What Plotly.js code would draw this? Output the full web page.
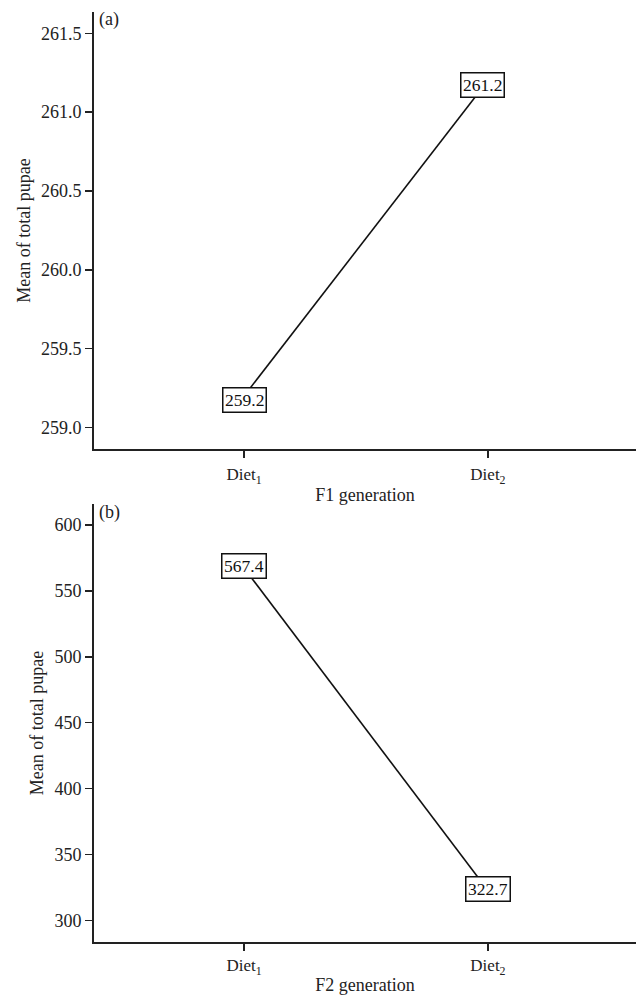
<!DOCTYPE html>
<html>
<head>
<meta charset="utf-8">
<script src="https://cdn.plot.ly/plotly-3.0.1.min.js"></script>
<style>html,body{margin:0;padding:0;background:#fff;}#chart{width:636px;height:995px;}</style>
</head>
<body>
<div id="chart"></div>
<script>
// Data
const categories = ["Diet<sub>1</sub>", "Diet<sub>2</sub>"];
const f1Means = [259.2, 261.2];
const f2Means = [567.4, 322.7];
const f1Labels = ["259.2", "261.2"];
const f2Labels = ["567.4", "322.7"];
const yTitle = "Mean of total pupae";
const xTitleA = "F1 generation";
const xTitleB = "F2 generation";

const FONT = "Liberation Serif";
const INK = "#222";

const traces = [
  {x: categories, y: f1Means, xaxis: "x", yaxis: "y", mode: "lines",
   line: {color: "#111", width: 1.6}, hoverinfo: "skip", showlegend: false},
  {x: categories, y: f2Means, xaxis: "x2", yaxis: "y2", mode: "lines",
   line: {color: "#111", width: 1.6}, hoverinfo: "skip", showlegend: false}
];

function xaxisCfg(anchor, title, standoff, lblStandoff) {
  return {
    anchor: anchor, domain: [0, 1], type: "category",
    range: [-0.615, 1.607],
    showline: true, linecolor: INK, linewidth: 2,
    ticks: "outside", ticklen: 7, tickwidth: 1.5, tickcolor: INK,
    showgrid: false, zeroline: false,
    ticklabelstandoff: lblStandoff,
    tickfont: {family: FONT, size: 17, color: INK},
    title: {text: title, font: {family: FONT, size: 18, color: INK}, standoff: standoff}
  };
}
function yaxisCfg(anchor, domain, range, dtick, fmt) {
  return {
    anchor: anchor, domain: domain, range: range,
    tick0: 0, dtick: dtick, tickformat: fmt,
    showline: true, linecolor: INK, linewidth: 2,
    ticks: "outside", ticklen: 7, tickwidth: 1.5, tickcolor: INK,
    showgrid: false, zeroline: false,
    tickfont: {family: FONT, size: 18, color: INK},
    title: {text: yTitle, font: {family: FONT, size: 18, color: INK}, standoff: 6}
  };
}

const boxAnn = (xref, yref, x, y, text, xs, ys) => ({
  xref: xref, yref: yref, x: x, y: y, text: text, showarrow: false,
  xshift: xs, yshift: ys,
  font: {family: FONT, size: 17.5, color: "#111"},
  bgcolor: "#fff", bordercolor: "#111", borderwidth: 1.5, borderpad: 1.5
});

const annotations = [
  boxAnn("x", "y", categories[0], f1Means[0], f1Labels[0], 0, -4),
  boxAnn("x", "y", categories[1], f1Means[1], f1Labels[1], -5, -4),
  boxAnn("x2", "y2", categories[0], f2Means[0], f2Labels[0], 0, 2),
  boxAnn("x2", "y2", categories[1], f2Means[1], f2Labels[1], 0, 2),
  {xref: "paper", yref: "paper", x: 0.006, y: 0.993, xanchor: "left", yanchor: "top",
   text: "(a)", showarrow: false, font: {family: FONT, size: 18, color: INK}},
  {xref: "paper", yref: "paper", x: 0.006, y: 0.497, xanchor: "left", yanchor: "top",
   text: "(b)", showarrow: false, font: {family: FONT, size: 18, color: INK}}
];

const layout = {
  width: 636, height: 995,
  margin: {l: 94, r: 0, t: 0, b: 0},
  paper_bgcolor: "#fff", plot_bgcolor: "#fff",
  showlegend: false,
  font: {family: FONT, color: INK},
  xaxis: xaxisCfg("y", xTitleA, 2, 2),
  yaxis: yaxisCfg("x", [1 - 449/995, 1 - 12/995], [258.864, 261.635], 0.5, ".1f"),
  xaxis2: xaxisCfg("y2", xTitleB, 1, 0),
  yaxis2: yaxisCfg("x2", [1 - 942/995, 1 - 504/995], [283.7, 615.9], 50, "d"),
  annotations: annotations
};

Plotly.newPlot("chart", traces, layout, {staticPlot: true, displayModeBar: false});
</script>
</body>
</html>
